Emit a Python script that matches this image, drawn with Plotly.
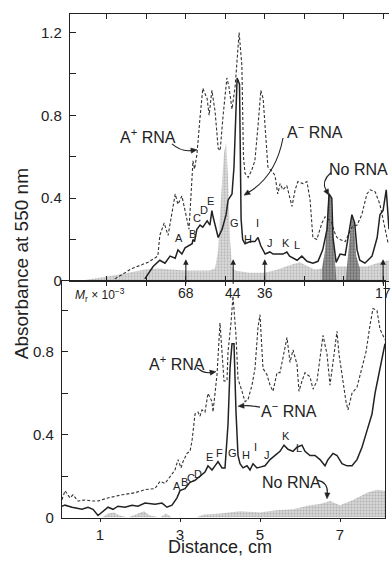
import math
import plotly.graph_objects as go

W, H = 391, 566
FONT = "Liberation Sans, Arial, Helvetica, sans-serif"
INK = "#222222"

# ------------------------------------------------------------------ data
# Top panel (gel 1): distance (cm) vs absorbance at 550 nm
top_aplus_dist = [1.20, 1.63, 2.04, 2.29, 2.34, 2.45, 2.55, 2.65, 2.73, 2.80, 2.90, 2.98, 3.08,
                  3.16, 3.18, 3.22, 3.28, 3.36, 3.43, 3.54, 3.59, 3.66, 3.74, 3.82, 3.87, 3.94,
                  4.04, 4.09, 4.17, 4.25, 4.30, 4.35, 4.42, 4.46, 4.50, 4.58, 4.66, 4.75, 4.83,
                  4.90, 4.96, 5.03, 5.08, 5.18, 5.26, 5.33, 5.39, 5.46, 5.56, 5.69, 5.77, 5.84,
                  5.97, 6.07, 6.15, 6.22, 6.32, 6.45, 6.53, 6.60, 6.70, 6.78, 6.83, 6.91, 7.04,
                  7.21, 7.34, 7.46, 7.59, 7.67, 7.80, 7.92, 8.00, 8.13]
top_aplus_abs = [0.01, 0.06, 0.09, 0.12, 0.22, 0.28, 0.22, 0.33, 0.42, 0.37, 0.41, 0.34, 0.25,
                 0.51, 0.58, 0.54, 0.61, 0.79, 0.93, 0.88, 0.80, 0.92, 0.82, 0.64, 0.63, 0.79,
                 0.98, 0.94, 0.83, 0.94, 1.06, 1.20, 1.04, 0.60, 0.52, 0.50, 0.53, 0.58, 0.75,
                 0.92, 0.88, 0.68, 0.55, 0.53, 0.51, 0.42, 0.47, 0.44, 0.46, 0.36, 0.44, 0.48,
                 0.47, 0.48, 0.39, 0.21, 0.20, 0.28, 0.31, 0.30, 0.28, 0.23, 0.21, 0.20, 0.19,
                 0.26, 0.27, 0.32, 0.42, 0.44, 0.43, 0.37, 0.30, 0.18]

top_aminus_dist = [1.96, 2.17, 2.34, 2.47, 2.60, 2.73, 2.80, 2.90, 2.98, 3.06, 3.16, 3.18, 3.22,
                   3.28, 3.36, 3.43, 3.54, 3.61, 3.66, 3.69, 3.79, 3.82, 3.92, 4.02, 4.07, 4.17,
                   4.22, 4.30, 4.36, 4.40, 4.44, 4.50, 4.63, 4.75, 4.83, 4.90, 5.01, 5.13, 5.21,
                   5.33, 5.46, 5.56, 5.63, 5.82, 5.94, 6.07, 6.22, 6.35, 6.47, 6.58, 6.63, 6.70,
                   6.73, 6.81, 6.91, 7.04, 7.14, 7.21, 7.28, 7.34, 7.41, 7.54, 7.72, 7.85, 7.92,
                   8.00, 8.08, 8.13, 8.15]
top_aminus_abs = [0.01, 0.07, 0.10, 0.086, 0.12, 0.11, 0.15, 0.13, 0.16, 0.17, 0.18, 0.20, 0.19,
                  0.25, 0.27, 0.26, 0.29, 0.27, 0.34, 0.31, 0.23, 0.21, 0.25, 0.32, 0.39, 0.42,
                  0.55, 0.98, 0.95, 0.30, 0.20, 0.18, 0.19, 0.19, 0.21, 0.17, 0.13, 0.14, 0.13,
                  0.13, 0.13, 0.14, 0.12, 0.10, 0.12, 0.095, 0.086, 0.095, 0.15, 0.25, 0.42, 0.40,
                  0.21, 0.09, 0.13, 0.125, 0.25, 0.32, 0.28, 0.15, 0.10, 0.086, 0.12, 0.21, 0.32,
                  0.34, 0.44, 0.30, 0.25]

top_norna_dist = [0.44, 1.00, 1.28, 1.96, 2.29, 3.00, 3.60, 3.74, 3.82, 3.89, 3.97, 4.02, 4.07,
                  4.12, 4.17, 4.25, 4.60, 5.00, 5.33, 5.69, 5.89, 6.10, 6.27, 6.45, 6.83, 7.00,
                  7.41, 7.59, 7.92, 8.15]
top_norna_abs = [0.005, 0.02, 0.03, 0.055, 0.06, 0.05, 0.05, 0.06, 0.15, 0.40, 0.62, 0.67, 0.50,
                 0.20, 0.07, 0.05, 0.04, 0.04, 0.055, 0.08, 0.09, 0.07, 0.055, 0.06, 0.07, 0.07,
                 0.07, 0.07, 0.09, 0.10]

# darker (overlapping) No-RNA peaks in the top panel
top_norna_dark_dist = [6.45, 6.53, 6.58, 6.62, 6.68, 6.72, 6.78, 6.82, 7.05, 7.11, 7.16, 7.21,
                       7.26, 7.32, 7.41]
top_norna_dark_abs = [0.06, 0.15, 0.30, 0.42, 0.41, 0.25, 0.09, 0.0, 0.0, 0.12, 0.25, 0.32,
                      0.28, 0.12, 0.06]

# Molecular-weight markers (Mr x 10^-3) on the top panel
mr_dist = [3.0, 4.2, 5.0, 8.0]
mr_labels = ["68", "44", "36", "17"]

# Bottom panel (gel 2)
bot_aplus_dist = [0.05, 0.125, 0.25, 0.325, 0.45, 0.625, 0.8, 0.95, 1.2, 1.55, 1.875, 2.125,
                  2.375, 2.5, 2.625, 2.75, 2.875, 2.95, 3.025, 3.075, 3.175, 3.25, 3.3, 3.375,
                  3.45, 3.5, 3.55, 3.625, 3.7, 3.8, 3.825, 3.925, 4.0, 4.05, 4.1, 4.175, 4.2,
                  4.275, 4.325, 4.4, 4.45, 4.55, 4.625, 4.7, 4.8, 4.875, 4.95, 5.0, 5.075, 5.175,
                  5.25, 5.325, 5.425, 5.5, 5.575, 5.675, 5.75, 5.825, 5.925, 5.975, 6.05, 6.125,
                  6.25, 6.325, 6.425, 6.5, 6.575, 6.675, 6.75, 6.825, 6.925, 6.975, 7.075, 7.15,
                  7.2, 7.3, 7.425, 7.55, 7.65, 7.75, 7.825, 7.925, 8.0, 8.125]
bot_aplus_abs = [0.086, 0.13, 0.095, 0.11, 0.08, 0.085, 0.08, 0.08, 0.095, 0.11, 0.12, 0.135,
                 0.14, 0.175, 0.165, 0.2, 0.23, 0.28, 0.24, 0.27, 0.31, 0.32, 0.37, 0.50,
                 0.51, 0.49, 0.52, 0.51, 0.60, 0.56, 0.51, 0.69, 0.94, 0.80, 0.66, 0.66, 0.80,
                 0.94, 1.07, 0.88, 0.67, 0.61, 0.56, 0.57, 0.64, 0.72, 0.92, 0.98, 0.72, 0.69,
                 0.64, 0.61, 0.70, 0.70, 0.77, 0.87, 0.75, 0.81, 0.74, 0.61, 0.66, 0.70,
                 0.68, 0.62, 0.66, 0.77, 0.88, 0.79, 0.64, 0.75, 0.90, 0.79, 0.66, 0.56,
                 0.52, 0.60, 0.63, 0.72, 0.80, 0.93, 1.01, 1.00, 0.91, 0.86]

bot_aminus_dist = [0.05, 0.125, 0.3, 0.55, 0.7, 0.825, 0.95, 1.075, 1.2, 1.325, 1.45, 1.625, 1.8,
                   1.95, 2.125, 2.375, 2.55, 2.675, 2.8, 2.925, 3.0, 3.125, 3.25, 3.375, 3.5,
                   3.625, 3.7, 3.8, 3.875, 3.95, 4.05, 4.125, 4.2, 4.25, 4.3, 4.35, 4.4, 4.45,
                   4.5, 4.575, 4.675, 4.75, 4.825, 4.925, 5.025, 5.125, 5.25, 5.375, 5.5, 5.6,
                   5.7, 5.825, 5.925, 6.05, 6.125, 6.25, 6.375, 6.5, 6.625, 6.7, 6.825, 6.925,
                   7.05, 7.175, 7.3, 7.425, 7.55, 7.675, 7.8, 7.875, 8.0, 8.125]
bot_aminus_abs = [0.055, 0.06, 0.05, 0.04, 0.05, 0.04, 0.01, 0.03, 0.05, 0.04, 0.055, 0.05, 0.06,
                  0.055, 0.07, 0.065, 0.07, 0.05, 0.06, 0.095, 0.13, 0.14, 0.17, 0.18, 0.20,
                  0.22, 0.25, 0.23, 0.25, 0.27, 0.24, 0.24, 0.45, 0.72, 0.84, 0.84, 0.51, 0.30,
                  0.26, 0.24, 0.25, 0.23, 0.26, 0.24, 0.245, 0.25, 0.28, 0.30, 0.32, 0.35,
                  0.33, 0.32, 0.34, 0.35, 0.32, 0.30, 0.30, 0.28, 0.25, 0.28, 0.31, 0.30,
                  0.26, 0.25, 0.25, 0.28, 0.34, 0.42, 0.50, 0.60, 0.72, 0.84]

bot_norna_dist = [0.05, 1.05, 1.2, 1.35, 1.5, 1.7, 1.95, 2.1, 2.25, 2.5, 2.65, 2.8, 3.4, 3.6, 4.0,
                  4.5, 5.0, 5.4, 5.825, 6.25, 6.5, 6.75, 7.0, 7.325, 7.675, 7.925, 8.125]
bot_norna_abs = [0.0, 0.0, 0.02, 0.025, 0.01, 0.0, 0.02, 0.03, 0.01, 0.0, 0.02, 0.0, 0.0, 0.015,
                 0.02, 0.03, 0.025, 0.035, 0.04, 0.06, 0.065, 0.08, 0.06, 0.085, 0.12, 0.135, 0.13]

top_yticks = [0, 0.4, 0.8, 1.2]
top_yticktext = ["0", "0.4", "0.8", "1.2"]
top_yminor = [0.2, 0.6, 1.0]
bot_yticks = [0, 0.4, 0.8]
bot_yticktext = ["0", "0.4", "0.8"]
bot_yminor = [0.2, 0.6, 1.0]
top_xticks = [1, 2, 3, 4, 5, 6, 7, 8]
bot_xticks = [1, 3, 5, 7]
bot_xticktext = ["1", "3", "5", "7"]


# ------------------------------------------------------------------ helpers
def X(px):
    return px / W


def Y(py):
    return 1 - py / H


def area(xs, ys, xa, ya, fg, bg, sol):
    return go.Scatter(x=xs, y=ys, xaxis=xa, yaxis=ya, mode="lines",
                      line=dict(width=0, color=bg), fill="tozeroy", fillcolor=bg,
                      fillpattern=dict(shape=".", fgcolor=fg, bgcolor=bg, size=3, solidity=sol),
                      hoverinfo="skip", showlegend=False)


def dashed(xs, ys, xa, ya):
    return go.Scatter(x=xs, y=ys, xaxis=xa, yaxis=ya, mode="lines",
                      line=dict(width=1.1, color="#333333", dash="3px,2px"),
                      hoverinfo="skip", showlegend=False)


def solid(xs, ys, xa, ya):
    return go.Scatter(x=xs, y=ys, xaxis=xa, yaxis=ya, mode="lines",
                      line=dict(width=1.5, color=INK),
                      hoverinfo="skip", showlegend=False)


fig = go.Figure()
fig.add_trace(area(top_norna_dist, top_norna_abs, "x", "y", "#8c8c8c", "#dadada", 0.35))
fig.add_trace(area(top_norna_dark_dist, top_norna_dark_abs, "x", "y", "#3a3a3a", "#9a9a9a", 0.45))
fig.add_trace(dashed(top_aplus_dist, top_aplus_abs, "x", "y"))
fig.add_trace(solid(top_aminus_dist, top_aminus_abs, "x", "y"))

fig.add_trace(area(bot_norna_dist, bot_norna_abs, "x2", "y2", "#8c8c8c", "#d6d6d6", 0.35))
fig.add_trace(dashed(bot_aplus_dist, bot_aplus_abs, "x2", "y2"))
fig.add_trace(solid(bot_aminus_dist, bot_aminus_abs, "x2", "y2"))

# dummy trace so the overlay tick axis is drawn
fig.add_trace(go.Scatter(x=[None], y=[None], xaxis="x3", yaxis="y", showlegend=False,
                         hoverinfo="skip"))

tickfont = dict(family=FONT, size=15, color=INK)
axis_common = dict(showgrid=False, zeroline=False, showline=True, linecolor=INK, linewidth=1.2,
                   tickcolor=INK, tickwidth=1.1, tickfont=tickfont)

top_xrange = [0.063, 8.15]
bot_xrange = [0.05, 8.125]

fig.update_layout(
    width=W, height=H,
    margin=dict(l=0, r=0, t=0, b=0, pad=0),
    paper_bgcolor="white", plot_bgcolor="white",
    font=dict(family=FONT, color=INK),
    xaxis=dict(axis_common, domain=[X(70), X(389)], range=top_xrange, anchor="y",
               tickmode="array", tickvals=top_xticks, ticks="inside", ticklen=5,
               showticklabels=False, mirror="ticks"),
    xaxis3=dict(domain=[X(70), X(389)], range=top_xrange, anchor="y", overlaying="x",
                side="bottom", showgrid=False, zeroline=False, showline=False,
                tickmode="array", tickvals=top_xticks, ticks="outside", ticklen=4,
                tickcolor=INK, tickwidth=1.1, showticklabels=False),
    yaxis=dict(axis_common, domain=[Y(285), Y(14)], range=[0, 1.29], anchor="x",
               tickmode="array", tickvals=top_yticks, ticktext=top_yticktext,
               ticks="inside", ticklen=6, mirror=False, ticklabelstandoff=4,
               minor=dict(tickmode="array", tickvals=top_yminor, ticks="inside", ticklen=6,
                          tickcolor=INK, tickwidth=1.1, showgrid=False)),
    xaxis2=dict(axis_common, domain=[X(62), X(385)], range=bot_xrange, anchor="y2",
                tickmode="array", tickvals=bot_xticks, ticktext=bot_xticktext,
                ticks="outside", ticklen=3, mirror=True),
    yaxis2=dict(axis_common, domain=[Y(525), Y(285)], range=[0, 1.143], anchor="x2",
                tickmode="array", tickvals=bot_yticks, ticktext=bot_yticktext,
                ticks="inside", ticklen=6, mirror=True, ticklabelstandoff=4,
                minor=dict(tickmode="array", tickvals=bot_yminor, ticks="inside", ticklen=6,
                           tickcolor=INK, tickwidth=1.1, showgrid=False)),
)

annotations = []
shapes = []


def label(text, px, py, size=16, **kw):
    annotations.append(dict(text=text, x=X(px), y=Y(py), xref="paper", yref="paper",
                            showarrow=False, font=dict(family=FONT, size=size, color=INK),
                            xanchor=kw.get("xanchor", "center"), yanchor="middle",
                            textangle=kw.get("textangle", 0)))


def curved_arrow(p0, c, p1):
    dx, dy = p1[0] - c[0], p1[1] - c[1]
    n = math.hypot(dx, dy) or 1.0
    ux, uy = dx / n, dy / n
    bx, by = p1[0] - ux * 6, p1[1] - uy * 6
    shapes.append(dict(type="path", xref="paper", yref="paper",
                       path="M {} {} Q {} {} {} {}".format(X(p0[0]), Y(p0[1]), X(c[0]), Y(c[1]),
                                                         X(bx), Y(by)),
                       line=dict(color=INK, width=1.1)))
    c1 = (bx - uy * 2.6, by + ux * 2.6)
    c2 = (bx + uy * 2.6, by - ux * 2.6)
    shapes.append(dict(type="path", xref="paper", yref="paper",
                       path="M {} {} L {} {} L {} {} Z".format(X(p1[0]), Y(p1[1]), X(c1[0]),
                                                             Y(c1[1]), X(c2[0]), Y(c2[1])),
                       fillcolor=INK, line=dict(color=INK, width=0.5)))


# axis titles
label("Absorbance at 550 nm", 21, 268, size=19, textangle=-90)
label("Distance, cm", 220, 555, size=18)

# top panel labels
label("A<sup>+</sup> RNA", 148, 138)
curved_arrow((172, 146), (181, 154), (197, 152))
label("A<sup>\u2212</sup> RNA", 315, 133)
curved_arrow((283, 140), (276, 178), (244, 198))
label("No RNA", 358, 172)
curved_arrow((331, 175), (321, 184), (329, 198))

# bottom panel labels
label("A<sup>+</sup> RNA", 177, 368)
curved_arrow((197, 373), (204, 379), (216, 377))
label("A<sup>\u2212</sup> RNA", 289, 416)
curved_arrow((260, 413), (250, 411), (238, 412))
label("No RNA", 291, 489)
curved_arrow((317, 487), (328, 489), (327, 506))

# peak letters
top_letters = [("A", 179, 241), ("B", 192, 237), ("C", 197, 221), ("D", 204, 213),
               ("E", 211, 204), ("G", 234, 226), ("H", 248, 242), ("I", 257, 226),
               ("J", 270, 246), ("K", 286, 246), ("L", 297, 249)]
bot_letters = [("A", 177, 493), ("B", 184, 489), ("C", 191, 485), ("D", 198, 481),
               ("E", 209, 464), ("F", 219, 460), ("G", 232, 459), ("H", 246, 462),
               ("I", 255, 453), ("J", 267, 462), ("K", 286, 442), ("L", 299, 454)]
for t, px, py in top_letters + bot_letters:
    label(t, px, py, size=11)

# Mr axis: labels with upward arrows
label("<i>M</i><sub>r</sub> \u00d7 10<sup>\u22123</sup>", 73, 299, size=12, xanchor="left")
for d, t in zip(mr_dist, mr_labels):
    annotations.append(dict(text=t, x=d, xref="x", y=Y(263), yref="paper", showarrow=True,
                            ax=0, ay=34, arrowhead=2, arrowsize=1, arrowwidth=1.1,
                            arrowcolor=INK, standoff=0, startstandoff=0,
                            font=dict(family=FONT, size=14, color=INK)))

fig.update_layout(annotations=annotations, shapes=shapes)

fig.write_html("out.html", config={"displayModeBar": False},
               post_script="document.body.style.margin='0px';")
